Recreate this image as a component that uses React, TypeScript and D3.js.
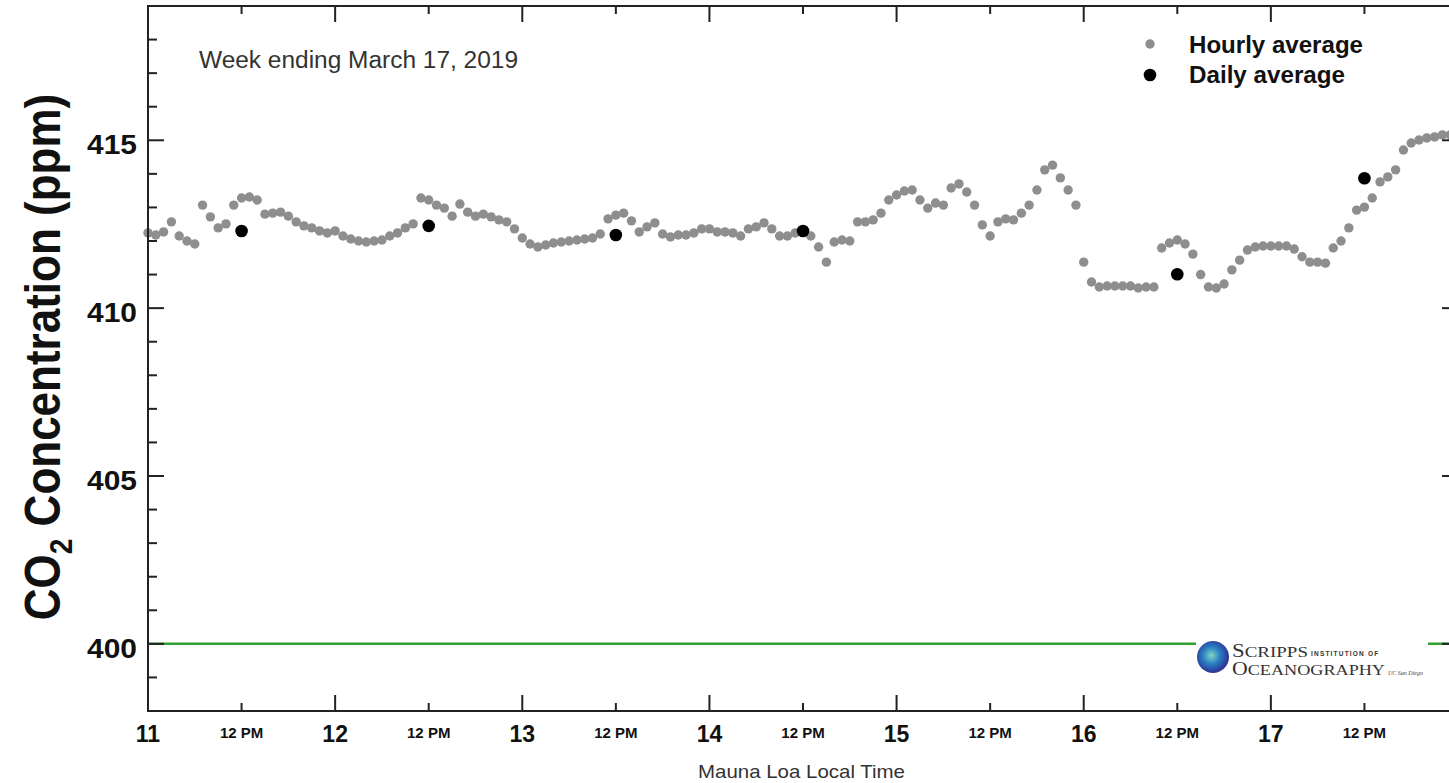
import React, { useEffect, useRef } from 'react';
import * as d3 from 'd3';

// hourly CO2 (ppm), one array per day, hours 0..23, Mauna Loa local time
const hourly11 = [412.24, 412.18, 412.27, 412.57, 412.15, 412.0, 411.91, 413.07, 412.72, 412.39, 412.51, 413.07, 413.28, 413.31, 413.22, 412.8, 412.83, 412.86, 412.74, 412.57, 412.45, 412.39, 412.3, 412.24];
const hourly12 = [412.3, 412.15, 412.06, 412.0, 411.97, 412.0, 412.03, 412.15, 412.24, 412.39, 412.51, 413.28, 413.22, 413.07, 412.98, 412.74, 413.1, 412.86, 412.74, 412.8, 412.72, 412.63, 412.57, 412.36];
const hourly13 = [412.09, 411.91, 411.82, 411.88, 411.94, 411.97, 412.0, 412.03, 412.06, 412.09, 412.21, 412.66, 412.77, 412.83, 412.6, 412.27, 412.42, 412.54, 412.21, 412.12, 412.18, 412.18, 412.24, 412.36];
const hourly14 = [412.36, 412.27, 412.27, 412.24, 412.15, 412.36, 412.42, 412.54, 412.36, 412.15, 412.15, 412.24, 412.27, 412.15, 411.82, 411.37, 411.97, 412.03, 412.0, 412.57, 412.57, 412.63, 412.83, 413.22];
const hourly15 = [413.37, 413.49, 413.52, 413.22, 412.98, 413.13, 413.07, 413.58, 413.7, 413.46, 413.07, 412.48, 412.15, 412.57, 412.66, 412.63, 412.83, 413.07, 413.52, 414.12, 414.26, 413.88, 413.52, 413.07];
const hourly16 = [411.37, 410.78, 410.63, 410.66, 410.66, 410.66, 410.66, 410.6, 410.63, 410.63, 411.79, 411.94, 412.03, 411.91, 411.61, 411.0, 410.63, 410.6, 410.72, 411.14, 411.43, 411.73, 411.82, 411.85];
const hourly17 = [411.85, 411.85, 411.85, 411.76, 411.53, 411.37, 411.37, 411.34, 411.79, 412.0, 412.39, 412.92, 413.01, 413.28, 413.76, 413.91, 414.12, 414.71, 414.92, 415.01, 415.07, 415.1, 415.16, 415.16];

const hourlyDays = [11, 12, 13, 14, 15, 16, 17];
const hourlyByDay = [hourly11, hourly12, hourly13, hourly14, hourly15, hourly16, hourly17];

// daily averages, plotted at noon
const dailyDays = [11, 12, 13, 14, 16, 17];
const dailyValues = [412.3, 412.45, 412.18, 412.3, 411.01, 413.87];

const dayTicks = [11, 12, 13, 14, 15, 16, 17];
const yMajorTicks = [400, 405, 410, 415];
const yMinorTicks = d3.range(399, 419).filter(v => v % 5 !== 0);

const W = 1449;
const H = 783;

const App = () => {
  const svgRef = useRef<SVGSVGElement>(null);

  useEffect(() => {
    const svg = d3.select(svgRef.current);
    svg.selectAll('*').remove();

    const x = d3.scaleLinear().domain([11, 18]).range([148, 1458]);
    const y = d3.scaleLinear().domain([398, 419]).range([711, 6]);
    const left = x(11), right = x(18), top = y(419), bottom = y(398);
    const font = 'Liberation Sans, Arial, Helvetica, sans-serif';

    const defs = svg.append('defs');
    const grad = defs.append('radialGradient').attr('id', 'globe').attr('cx', '45%').attr('cy', '45%').attr('r', '60%');
    grad.append('stop').attr('offset', '0%').attr('stop-color', '#7fd8c4');
    grad.append('stop').attr('offset', '45%').attr('stop-color', '#2a7fc2');
    grad.append('stop').attr('offset', '85%').attr('stop-color', '#2c3c9a');
    grad.append('stop').attr('offset', '100%').attr('stop-color', '#5b2b8c');

    // 400 ppm reference line
    svg.append('line')
      .attr('x1', left).attr('x2', right)
      .attr('y1', y(400)).attr('y2', y(400))
      .attr('stroke', '#33a033').attr('stroke-width', 2.5);

    // hourly points
    const hourly = hourlyDays.flatMap((d, i) => hourlyByDay[i].map((v, h) => ({ t: d + h / 24, v })));
    svg.append('g').selectAll('circle')
      .data(hourly)
      .enter()
      .append('circle')
      .attr('cx', d => x(d.t))
      .attr('cy', d => y(d.v))
      .attr('r', 4.7)
      .attr('fill', '#8e8e8e');

    // daily points
    svg.append('g').selectAll('circle')
      .data(dailyDays.map((d, i) => ({ t: d + 0.5, v: dailyValues[i] })))
      .enter()
      .append('circle')
      .attr('cx', d => x(d.t))
      .attr('cy', d => y(d.v))
      .attr('r', 6.3)
      .attr('fill', '#000');

    // frame
    svg.append('rect')
      .attr('x', left).attr('y', top)
      .attr('width', right - left).attr('height', bottom - top)
      .attr('fill', 'none').attr('stroke', '#222').attr('stroke-width', 2);

    const ticks = svg.append('g').attr('stroke', '#222').attr('stroke-width', 2);
    const noon = dayTicks.map(d => d + 0.5);

    // x ticks bottom + top
    dayTicks.forEach(d => {
      ticks.append('line').attr('x1', x(d)).attr('x2', x(d)).attr('y1', bottom).attr('y2', bottom - 16);
      ticks.append('line').attr('x1', x(d)).attr('x2', x(d)).attr('y1', top).attr('y2', top + 16);
    });
    noon.forEach(d => {
      ticks.append('line').attr('x1', x(d)).attr('x2', x(d)).attr('y1', bottom).attr('y2', bottom - 8);
      ticks.append('line').attr('x1', x(d)).attr('x2', x(d)).attr('y1', top).attr('y2', top + 8);
    });
    // y ticks left + right
    yMajorTicks.forEach(v => {
      ticks.append('line').attr('x1', left).attr('x2', left + 16).attr('y1', y(v)).attr('y2', y(v));
      ticks.append('line').attr('x1', right).attr('x2', right - 16).attr('y1', y(v)).attr('y2', y(v));
    });
    yMinorTicks.forEach(v => {
      ticks.append('line').attr('x1', left).attr('x2', left + 9).attr('y1', y(v)).attr('y2', y(v));
      ticks.append('line').attr('x1', right).attr('x2', right - 9).attr('y1', y(v)).attr('y2', y(v));
    });

    // y tick labels
    svg.append('g').selectAll('text')
      .data(yMajorTicks)
      .enter()
      .append('text')
      .attr('x', 87)
      .attr('y', v => y(v) + 14)
      .attr('textLength', 50)
      .attr('lengthAdjust', 'spacingAndGlyphs')
      .attr('font-family', font)
      .attr('font-weight', 'bold')
      .attr('font-size', 27)
      .attr('fill', '#111')
      .text(v => v);

    // x tick labels
    svg.append('g').selectAll('text')
      .data(dayTicks)
      .enter()
      .append('text')
      .attr('x', d => x(d))
      .attr('y', 742)
      .attr('text-anchor', 'middle')
      .attr('font-family', font)
      .attr('font-weight', 'bold')
      .attr('font-size', 23)
      .attr('fill', '#111')
      .text(d => d);
    svg.append('g').selectAll('text')
      .data(noon)
      .enter()
      .append('text')
      .attr('x', d => x(d))
      .attr('y', 738)
      .attr('text-anchor', 'middle')
      .attr('font-family', font)
      .attr('font-weight', 'bold')
      .attr('font-size', 15)
      .attr('fill', '#111')
      .text('12 PM');

    // axis titles
    svg.append('text')
      .attr('x', 698)
      .attr('y', 778)
      .attr('textLength', 207)
      .attr('lengthAdjust', 'spacingAndGlyphs')
      .attr('font-family', font)
      .attr('font-size', 19)
      .attr('fill', '#333')
      .text('Mauna Loa Local Time');

    const yTitle = svg.append('text')
      .attr('transform', `translate(60, ${(88 + 626) / 2}) scale(1.15, 1) rotate(-90)`)
      .attr('text-anchor', 'middle')
      .attr('font-family', font)
      .attr('font-weight', 'bold')
      .attr('font-size', 44)
      .attr('fill', '#111');
    yTitle.append('tspan').text('CO');
    yTitle.append('tspan').attr('font-size', 28).attr('dy', 10).text('2');
    yTitle.append('tspan').attr('dy', -10).text(' Concentration (ppm)');

    svg.append('text')
      .attr('x', 199).attr('y', 68)
      .attr('textLength', 319)
      .attr('lengthAdjust', 'spacingAndGlyphs')
      .attr('font-family', font)
      .attr('font-size', 23)
      .attr('fill', '#333')
      .text('Week ending March 17, 2019');

    // legend
    const legend = svg.append('g').attr('font-family', font).attr('font-weight', 'bold').attr('font-size', 23).attr('fill', '#111');
    legend.append('circle').attr('cx', 1150).attr('cy', 44).attr('r', 4.7).attr('fill', '#8e8e8e');
    legend.append('text').attr('x', 1189).attr('y', 53)
      .attr('textLength', 174).attr('lengthAdjust', 'spacingAndGlyphs').text('Hourly average');
    legend.append('circle').attr('cx', 1150).attr('cy', 75).attr('r', 6.3).attr('fill', '#000');
    legend.append('text').attr('x', 1189).attr('y', 83)
      .attr('textLength', 156).attr('lengthAdjust', 'spacingAndGlyphs').text('Daily average');

    // Scripps logo
    const logo = svg.append('g');
    logo.append('rect').attr('x', 1196).attr('y', 630).attr('width', 232).attr('height', 56).attr('fill', '#fff');
    logo.append('circle').attr('cx', 1213).attr('cy', 657).attr('r', 16).attr('fill', 'url(#globe)');
    const serif = 'Liberation Serif, Times New Roman, serif';
    const l1 = logo.append('text').attr('x', 1232).attr('y', 657).attr('font-family', serif).attr('fill', '#333')
      .attr('textLength', 76).attr('lengthAdjust', 'spacingAndGlyphs');
    l1.append('tspan').attr('font-size', 18).text('S');
    l1.append('tspan').attr('font-size', 15).text('CRIPPS');
    logo.append('text').attr('x', 1311).attr('y', 656).attr('font-family', font).attr('font-weight', 'bold')
      .attr('font-size', 6.5).attr('letter-spacing', 1.2).attr('fill', '#333').text('INSTITUTION OF');
    const l2 = logo.append('text').attr('x', 1232).attr('y', 675).attr('font-family', serif).attr('fill', '#333')
      .attr('textLength', 153).attr('lengthAdjust', 'spacingAndGlyphs');
    l2.append('tspan').attr('font-size', 18).text('O');
    l2.append('tspan').attr('font-size', 15).text('CEANOGRAPHY');
    logo.append('text').attr('x', 1388).attr('y', 675).attr('font-family', serif).attr('font-style', 'italic')
      .attr('font-size', 6).attr('fill', '#444').text('UC San Diego');
  }, []);

  return (
    <svg
      ref={svgRef}
      width={W}
      height={H}
      style={{ position: 'absolute', left: 0, top: 0, background: '#fff' }}
    ></svg>
  );
};

export default App;
